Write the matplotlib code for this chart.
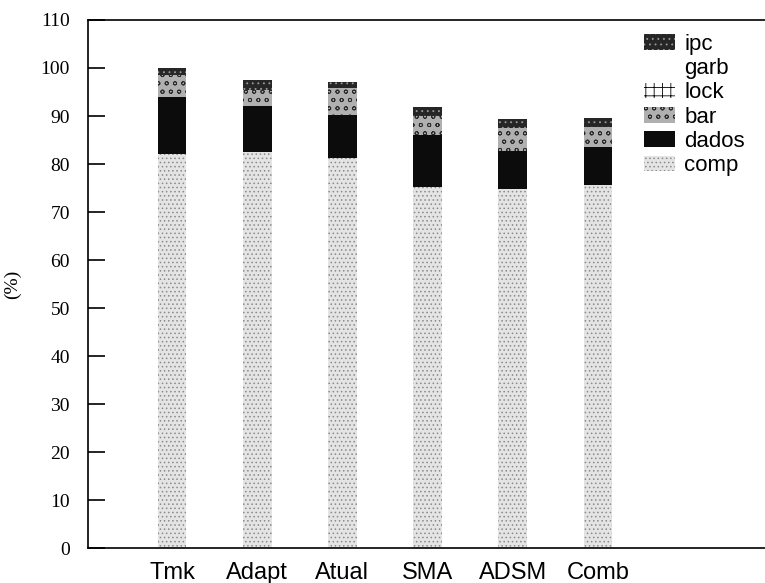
import matplotlib
matplotlib.use("Agg")
import matplotlib.pyplot as plt
import numpy as np

categories = ["Tmk", "Adapt", "Atual", "SMA", "ADSM", "Comb"]
comp  = [82.0, 82.5, 81.3, 75.2, 74.7, 75.6]
dados = [12.0,  9.5,  9.0, 10.8,  8.0,  8.0]
bar   = [ 4.5,  3.5,  5.5,  4.0,  4.8,  4.2]
lock  = [ 0.0,  0.0,  0.0,  0.0,  0.0,  0.0]
garb  = [ 0.0,  0.0,  0.0,  0.0,  0.0,  0.0]
ipc   = [ 1.5,  2.0,  1.2,  1.8,  1.8,  1.7]
y_ticks = [0, 10, 20, 30, 40, 50, 60, 70, 80, 90, 100, 110]

series = [
    ("comp",  comp,  dict(facecolor="#e4e4e4", hatch="....", edgecolor="#8a8a8a")),
    ("dados", dados, dict(facecolor="#0c0c0c", hatch="",     edgecolor="#0c0c0c")),
    ("bar",   bar,   dict(facecolor="#b0b0b0", hatch="oo",   edgecolor="#2a2a2a")),
    ("lock",  lock,  dict(facecolor="white",   hatch="++",   edgecolor="black")),
    ("garb",  garb,  dict(facecolor="white",   hatch="",     edgecolor="white")),
    ("ipc",   ipc,   dict(facecolor="#262626", hatch="...",  edgecolor="#9a9a9a")),
]

plt.rcParams["hatch.linewidth"] = 0.6
fig = plt.figure(figsize=(7.65, 5.83), dpi=100)
ax = fig.add_axes([0.115, 0.06, 0.885, 0.9057])

x = np.arange(len(categories))
bottom = np.zeros(len(categories))
handles = []
for name, vals, style in series:
    vals = np.array(vals)
    b = ax.bar(x, vals, width=0.34, bottom=bottom, linewidth=0, label=name, **style)
    bottom += vals
    handles.append(b)

ax.set_xlim(-0.986, 6.96)
ax.set_ylim(0, 110)
ax.set_yticks(y_ticks)
ax.set_yticklabels([str(t) for t in y_ticks], family="Liberation Serif", fontsize=14)
ax.tick_params(axis="y", direction="in", length=12, width=1.2, pad=13)
ax.set_xticks(x)
ax.set_xticklabels(categories, family="Liberation Sans", fontsize=17)
ax.tick_params(axis="x", length=0, pad=10)

ax.spines["right"].set_visible(False)
for s in ("left", "bottom", "top"):
    ax.spines[s].set_linewidth(1.2)

ax.set_ylabel("(%)", family="Liberation Serif", fontsize=14, labelpad=14)

leg = ax.legend(handles[::-1], [h.get_label() for h in handles[::-1]],
                loc="upper right", bbox_to_anchor=(1.0, 1.012), frameon=False,
                prop={"family": "Liberation Sans", "size": 16},
                handlelength=1.4, handleheight=0.7, handletextpad=0.4,
                labelspacing=0.15)

fig.savefig("out.png", dpi=100)
